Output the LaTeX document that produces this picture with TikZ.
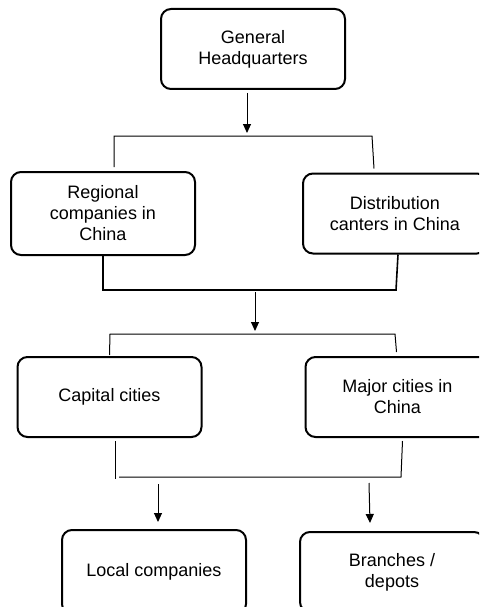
\documentclass[tikz,border=0pt]{standalone}
\usepackage{fontspec}
\setmainfont{Liberation Sans}
\usetikzlibrary{positioning,arrows.meta}

\begin{document}
\begin{tikzpicture}[x=1pt, y=-1pt, >={Triangle[length=9pt,width=8pt]},
    main/.style = {draw, line width=2pt, rounded corners=10pt, minimum width=184pt,
        minimum height=80pt, align=center, font=\fontsize{18}{21}\selectfont},
    link/.style = {line width=1pt}]
        \clip (0,0) rectangle (479,607);

        \node[main] (hq) at (253,49) {General\\Headquarters};
        \node[main, minimum height=83pt] (reg) at (103,213.5) {Regional\\companies in\\China};
        \node[main] (dist) [right=106pt of reg] {Distribution\\canters in China};
        \node[main] (cap) at (109.5,397) {Capital cities};
        \node[main] (major) [right=102pt of cap] {Major cities in\\China};
        \node[main, minimum height=84pt] (local) at (154,572) {Local companies};
        \node[main] (branch) [right=52pt of local] {Branches /\\depots};

        % bars and arrow ends
        \coordinate (j1) at (247,133);
        \coordinate (b1l) at (114,136);
        \coordinate (b1r) at (372,136);
        \coordinate (b2l) at (103,290);
        \coordinate (b2r) at (396,290);
        \coordinate (s2) at (255,292);
        \coordinate (j2) at (255,331);
        \coordinate (b3l) at (110,334);
        \coordinate (b3r) at (395,334);
        \coordinate (b4l) at (115,479);
        \coordinate (b4m) at (119,477);
        \coordinate (b4r) at (401,477);
        \coordinate (t1) at (158,484);
        \coordinate (t2) at (369,483);

        \draw[->, link] ([xshift=-6pt,yshift=-3pt]hq.south) -- (j1);
        \draw[link] ([xshift=11pt,yshift=4pt]reg.north) -- (b1l) -- (b1r) -- ([xshift=-21pt,yshift=4pt]dist.north);
        \draw[link, line width=1.6pt] (reg.south) -- (b2l) -- (b2r) -- ([xshift=3pt]dist.south);
        \draw[->, link] (s2) -- (j2);
        \draw[link] ([yshift=1pt]cap.north) -- (b3l) -- (b3r) -- ([xshift=-1pt,yshift=4pt]major.north);
        \draw[link] ([xshift=5.5pt,yshift=-3pt]cap.south) -- (b4l);
        \draw[link] (b4m) -- (b4r) -- ([xshift=5pt,yshift=-3pt]major.south);
        \draw[->, link] (t1) -- ([xshift=4pt,yshift=7pt]local.north);
        \draw[->, link] (t2) -- ([xshift=-22pt,yshift=8pt]branch.north);
    \end{tikzpicture}
\end{document}
